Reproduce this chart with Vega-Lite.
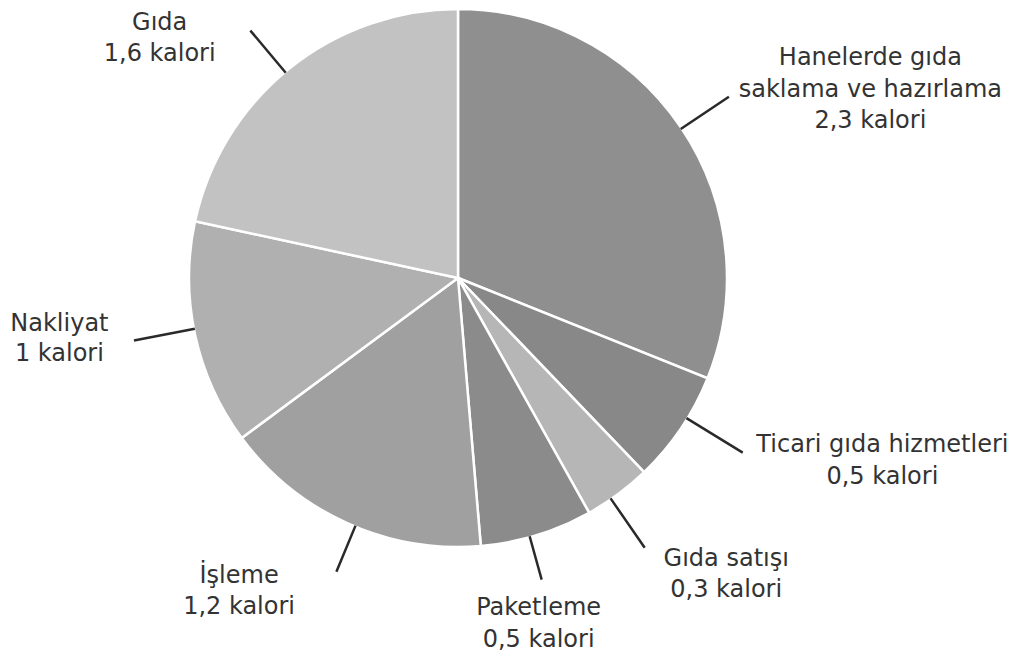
{
  "$schema": "https://vega.github.io/schema/vega-lite/v6.json",
  "width": 916,
  "height": 556,
  "autosize": {"type": "none"},
  "padding": {"left": 0, "top": 0, "right": 95, "bottom": 96},
  "background": "#ffffff",
  "config": {"view": {"stroke": null}},
  "data": {
    "values": [
      {"sira": 1, "cat": "Hanelerde gıda saklama ve hazırlama", "label": "Hanelerde gıda\nsaklama ve hazırlama\n2,3 kalori", "value": 2.3},
      {"sira": 2, "cat": "Ticari gıda hizmetleri", "label": "Ticari gıda hizmetleri\n0,5 kalori", "value": 0.5},
      {"sira": 3, "cat": "Gıda satışı", "label": "Gıda satışı\n0,3 kalori", "value": 0.3},
      {"sira": 4, "cat": "Paketleme", "label": "Paketleme\n0,5 kalori", "value": 0.5},
      {"sira": 5, "cat": "İşleme", "label": "İşleme\n1,2 kalori", "value": 1.2},
      {"sira": 6, "cat": "Nakliyat", "label": "Nakliyat\n1 kalori", "value": 1},
      {"sira": 7, "cat": "Gıda", "label": "Gıda\n1,6 kalori", "value": 1.6}
    ]
  },
  "layer": [
    {
      "mark": {"type": "arc", "outerRadius": 269, "stroke": "#ffffff", "strokeWidth": 2.5},
      "encoding": {
        "theta": {"field": "value", "type": "quantitative", "stack": true},
        "order": {"field": "sira", "type": "quantitative"},
        "color": {
          "field": "cat", "type": "nominal", "legend": null,
          "scale": {
            "domain": ["Hanelerde gıda saklama ve hazırlama", "Ticari gıda hizmetleri", "Gıda satışı", "Paketleme", "İşleme", "Nakliyat", "Gıda"],
            "range": ["#8f8f8f", "#888888", "#b6b6b6", "#8b8b8b", "#a0a0a0", "#b0b0b0", "#c2c2c2"]
          }
        }
      }
    },
    {"transform": [{"filter": "datum.sira === 1"}], "mark": {"type": "arc", "theta": 0.981, "theta2": 0.981, "innerRadius": 268, "outerRadius": 326, "stroke": "#2a2a2a", "strokeWidth": 2.5, "fill": null}, "encoding": {}},
    {"transform": [{"filter": "datum.sira === 2"}], "mark": {"type": "arc", "theta": 2.121, "theta2": 2.121, "innerRadius": 268, "outerRadius": 334, "stroke": "#2a2a2a", "strokeWidth": 2.5, "fill": null}, "encoding": {}},
    {"transform": [{"filter": "datum.sira === 3"}], "mark": {"type": "arc", "theta": 2.536, "theta2": 2.536, "innerRadius": 268, "outerRadius": 328, "stroke": "#2a2a2a", "strokeWidth": 2.5, "fill": null}, "encoding": {}},
    {"transform": [{"filter": "datum.sira === 4"}], "mark": {"type": "arc", "theta": 2.871, "theta2": 2.871, "innerRadius": 268, "outerRadius": 313, "stroke": "#2a2a2a", "strokeWidth": 2.5, "fill": null}, "encoding": {}},
    {"transform": [{"filter": "datum.sira === 5"}], "mark": {"type": "arc", "theta": 3.534, "theta2": 3.534, "innerRadius": 268, "outerRadius": 318, "stroke": "#2a2a2a", "strokeWidth": 2.5, "fill": null}, "encoding": {}},
    {"transform": [{"filter": "datum.sira === 6"}], "mark": {"type": "arc", "theta": 4.522, "theta2": 4.522, "innerRadius": 268, "outerRadius": 330, "stroke": "#2a2a2a", "strokeWidth": 2.5, "fill": null}, "encoding": {}},
    {"transform": [{"filter": "datum.sira === 7"}], "mark": {"type": "arc", "theta": 5.585, "theta2": 5.585, "innerRadius": 268, "outerRadius": 323, "stroke": "#2a2a2a", "strokeWidth": 2.5, "fill": null}, "encoding": {}},
    {
      "mark": {"type": "text", "radius": 330, "dx": 139, "dy": -35, "font": "DejaVu Sans", "fontSize": 24, "lineHeight": 31.5, "lineBreak": "\n", "fill": "#333333", "align": "center", "baseline": "middle"},
      "encoding": {
        "theta": {"field": "value", "type": "quantitative", "stack": true},
        "order": {"field": "sira", "type": "quantitative"},
        "text": {"condition": {"test": "datum.sira === 1", "field": "label"}, "value": ""}
      }
    },
    {
      "mark": {"type": "text", "radius": 330, "dx": 151, "dy": -18, "font": "DejaVu Sans", "fontSize": 24, "lineHeight": 32, "lineBreak": "\n", "fill": "#333333", "align": "center", "baseline": "middle"},
      "encoding": {
        "theta": {"field": "value", "type": "quantitative", "stack": true},
        "order": {"field": "sira", "type": "quantitative"},
        "text": {"condition": {"test": "datum.sira === 2", "field": "label"}, "value": ""}
      }
    },
    {
      "mark": {"type": "text", "radius": 330, "dx": 72, "dy": 16, "font": "DejaVu Sans", "fontSize": 24, "lineHeight": 31, "lineBreak": "\n", "fill": "#333333", "align": "center", "baseline": "middle"},
      "encoding": {
        "theta": {"field": "value", "type": "quantitative", "stack": true},
        "order": {"field": "sira", "type": "quantitative"},
        "text": {"condition": {"test": "datum.sira === 3", "field": "label"}, "value": ""}
      }
    },
    {
      "mark": {"type": "text", "radius": 330, "dx": -16, "dy": 14, "font": "DejaVu Sans", "fontSize": 24, "lineHeight": 32, "lineBreak": "\n", "fill": "#333333", "align": "center", "baseline": "middle"},
      "encoding": {
        "theta": {"field": "value", "type": "quantitative", "stack": true},
        "order": {"field": "sira", "type": "quantitative"},
        "text": {"condition": {"test": "datum.sira === 4", "field": "label"}, "value": ""}
      }
    },
    {
      "mark": {"type": "text", "radius": 330, "dx": -83, "dy": -3, "font": "DejaVu Sans", "fontSize": 24, "lineHeight": 31, "lineBreak": "\n", "fill": "#333333", "align": "center", "baseline": "middle"},
      "encoding": {
        "theta": {"field": "value", "type": "quantitative", "stack": true},
        "order": {"field": "sira", "type": "quantitative"},
        "text": {"condition": {"test": "datum.sira === 5", "field": "label"}, "value": ""}
      }
    },
    {
      "mark": {"type": "text", "radius": 330, "dx": -76, "dy": -24, "font": "DejaVu Sans", "fontSize": 24, "lineHeight": 30, "lineBreak": "\n", "fill": "#333333", "align": "center", "baseline": "middle"},
      "encoding": {
        "theta": {"field": "value", "type": "quantitative", "stack": true},
        "order": {"field": "sira", "type": "quantitative"},
        "text": {"condition": {"test": "datum.sira === 6", "field": "label"}, "value": ""}
      }
    },
    {
      "mark": {"type": "text", "radius": 330, "dx": -91, "dy": 2, "font": "DejaVu Sans", "fontSize": 24, "lineHeight": 31, "lineBreak": "\n", "fill": "#333333", "align": "center", "baseline": "middle"},
      "encoding": {
        "theta": {"field": "value", "type": "quantitative", "stack": true},
        "order": {"field": "sira", "type": "quantitative"},
        "text": {"condition": {"test": "datum.sira === 7", "field": "label"}, "value": ""}
      }
    }
  ]
}
